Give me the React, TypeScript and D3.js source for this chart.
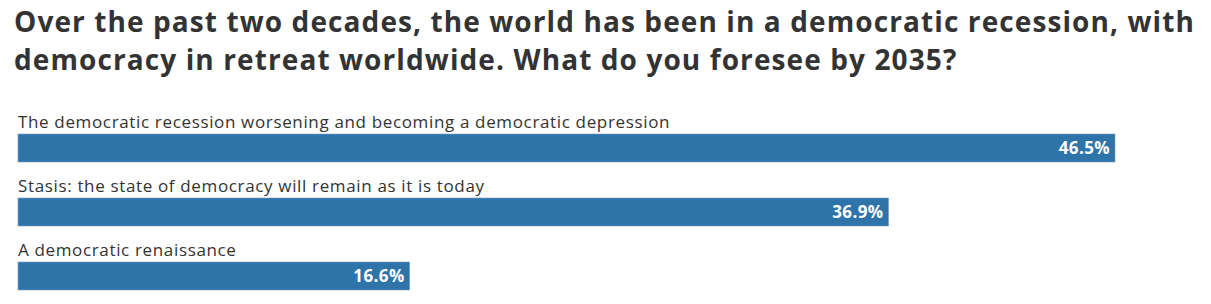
import React from "react";
import * as d3 from "d3";

const categories = [
  "The democratic recession worsening and becoming a democratic depression",
  "Stasis: the state of democracy will remain as it is today",
  "A democratic renaissance",
];
const values = [46.5, 36.9, 16.6];
const titleLines = [
  "Over the past two decades, the world has been in a democratic recession, with",
  "democracy in retreat worldwide. What do you foresee by 2035?",
];

export default function App() {
  const W = 1211, H = 304;
  const x = d3.scaleLinear().domain([0, d3.max(values)!]).range([18, 1115]);
  const y = d3.scaleBand<number>().domain(d3.range(values.length)).range([115, 307]).paddingInner(0).paddingOuter(0);
  const barH = 28;
  return (
    <svg width={W} height={H} style={{ position: "absolute", left: 0, top: 0 }} fontFamily="'Open Sans', sans-serif">
      {titleLines.map((t, i) => (
        <text key={i} x={14} y={32 + i * 38} fontSize={28} fontWeight={700} letterSpacing={1.1} fill="#333">{t}</text>
      ))}
      {values.map((v, i) => {
        const top = y(i)! + 19;
        return (
          <g key={i}>
            <text x={18} y={top - 6} fontSize={17} letterSpacing={0.65} fill="#333">{categories[i]}</text>
            <rect x={x(0)} y={top} width={x(v) - x(0)} height={barH} fill="#2f74a9" stroke="#6fa0c6" strokeWidth={0.6} />
            <text x={x(v) - 5} y={top + barH / 2} dy="0.35em" textAnchor="end" fontSize={17} fontWeight={700} letterSpacing={0.4} fill="#fff">{v.toFixed(1)}%</text>
          </g>
        );
      })}
    </svg>
  );
}
